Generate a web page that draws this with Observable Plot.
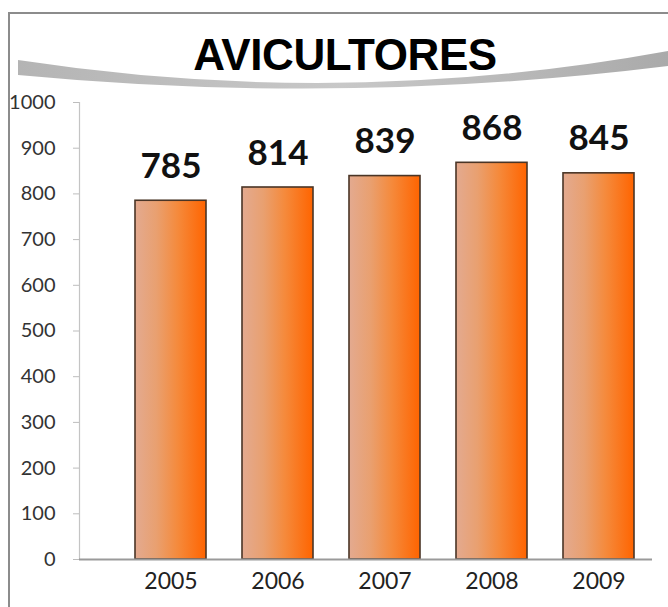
<!DOCTYPE html>
<html>
<head>
<meta charset="utf-8">
<script src="https://cdn.jsdelivr.net/npm/d3@7"></script>
<script src="https://cdn.jsdelivr.net/npm/@observablehq/plot@0.6"></script>
<style>
  html, body { margin: 0; padding: 0; background: #fff; }
  #page { position: relative; width: 668px; height: 607px; overflow: hidden; background: #fff; }
  #border { position: absolute; left: 8px; top: 12px; width: 700px; height: 700px;
            border-left: 2px solid #8c8c8c; border-top: 2px solid #8c8c8c; box-sizing: border-box; }
  #swoosh { position: absolute; left: 0; top: 0; }
  #title { position: absolute; left: 0; width: 690px; top: 30px; text-align: center;
           font-family: "Liberation Sans", Arial, sans-serif; font-weight: bold; font-size: 44px;
           color: #000; line-height: 50px; letter-spacing: -0.4px; }
  #chart { position: absolute; left: 0; top: 0; width: 668px; height: 607px; }
</style>
</head>
<body>
<div id="page">
  <svg id="swoosh" width="668" height="110">
    <defs>
      <linearGradient id="swooshGrad" x1="0" x2="1" y1="0" y2="0">
        <stop offset="0" stop-color="#b4b4b4"/>
        <stop offset="0.5" stop-color="#c8c8c8"/>
        <stop offset="1" stop-color="#aaaaaa"/>
      </linearGradient>
      <linearGradient id="barGrad" x1="0" x2="1" y1="0" y2="0">
        <stop offset="0" stop-color="#e3aa90"/>
        <stop offset="0.3" stop-color="#e9a070"/>
        <stop offset="0.6" stop-color="#f58a3c"/>
        <stop offset="1" stop-color="#ff6400"/>
      </linearGradient>
    </defs>
    <path d="M18,60 Q345,110 668,51 L668,66 Q345,106 18,75 Z" fill="url(#swooshGrad)"/>
  </svg>
  <div id="border"></div>
  <div id="title">AVICULTORES</div>
  <div id="chart"></div>
</div>
<script>
const years = ["2005", "2006", "2007", "2008", "2009"];
const values = [785, 814, 839, 868, 845];
const yTicks = [0, 100, 200, 300, 400, 500, 600, 700, 800, 900, 1000];

const data = years.map((year, i) => ({year, value: values[i]}));

// vertical axis line at the left edge of the frame
const yAxisLine = (index, scales, values, dims) => {
  const line = document.createElementNS("http://www.w3.org/2000/svg", "line");
  const x = dims.marginLeft + 0.5;
  line.setAttribute("x1", x);
  line.setAttribute("x2", x);
  line.setAttribute("y1", scales.y(yTicks[yTicks.length - 1]));
  line.setAttribute("y2", scales.y(0));
  line.setAttribute("stroke", "#c4c4c4");
  line.setAttribute("stroke-width", 1.2);
  return line;
};

const chart = Plot.plot({
  width: 668,
  height: 607,
  marginLeft: 79,
  marginRight: 16,
  marginTop: 102,
  marginBottom: 48,
  style: {background: "transparent", overflow: "visible"},
  x: {domain: years, paddingInner: 0.34, paddingOuter: 0.335, align: 0.75, label: null},
  y: {domain: [0, 1000], label: null},
  marks: [
    yAxisLine,
    Plot.axisY({ticks: yTicks, tickFormat: d => String(d), tickSize: 6, tickPadding: 18,
      stroke: "#bdbdbd", fill: "#333", fontSize: 20, fontFamily: "Lato, sans-serif", label: null}),
    Plot.axisX({tickSize: 0, tickPadding: 13, fill: "#222", fontSize: 23,
      fontFamily: "Lato, sans-serif", label: null}),
    Plot.barY(data, {x: "year", y: "value", fill: "url(#barGrad)", stroke: "#4a3526", strokeWidth: 1.6}),
    Plot.ruleY([0], {stroke: "#9a9a9a", strokeWidth: 2}),
    Plot.text(data, {x: "year", y: "value", text: d => String(d.value), lineAnchor: "bottom", dy: -23,
      fontSize: 35, fontWeight: "bold", fontFamily: "Lato, sans-serif", fill: "#111"})
  ]
});
document.getElementById("chart").appendChild(chart);
</script>
</body>
</html>
